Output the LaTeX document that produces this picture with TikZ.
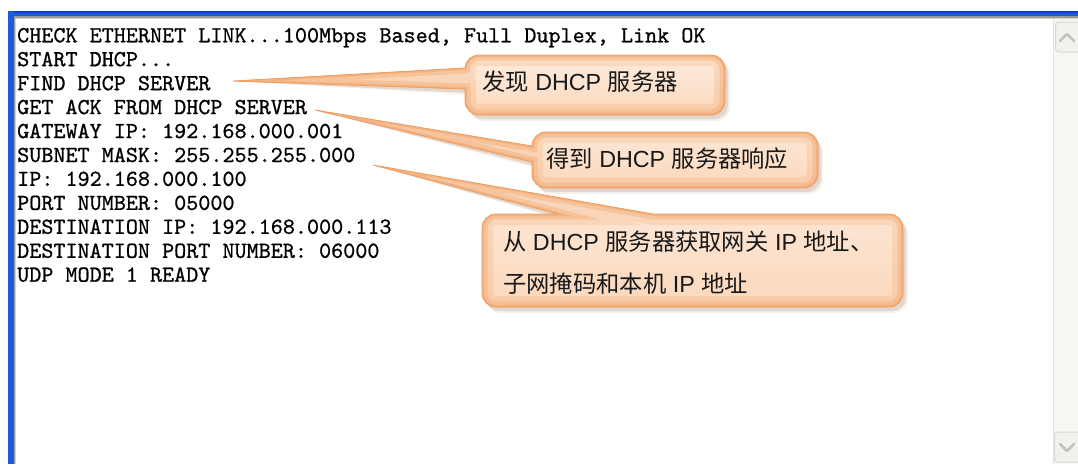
\documentclass[tikz,border=0pt]{standalone}
\usepackage{fontspec}
\setmainfont{Liberation Sans}
\newfontfamily\cjk{Noto Sans CJK SC}
\newfontfamily\termfont[FakeBold=0.8]{lmmono10-regular.otf}

\definecolor{xpblue}{HTML}{1D5BDC}
\definecolor{xpbluedark}{HTML}{0A3FC0}
\definecolor{framegray}{HTML}{9A9A96}
\definecolor{framelight}{HTML}{D6D3CC}
\definecolor{scrolltrack}{HTML}{F6F6F2}
\definecolor{scrollline}{HTML}{E4E4DF}
\definecolor{btnborder}{HTML}{D9D9D5}
\definecolor{btnfill}{HTML}{F1F1EE}
\definecolor{chevgray}{HTML}{C2C2C0}
\definecolor{cfTop}{HTML}{FDEDE0}
\definecolor{cfBot}{HTML}{FBD8BC}
\definecolor{cglow}{HTML}{F3A86F}
\definecolor{cborder}{HTML}{EE9C60}
\definecolor{cshadow}{HTML}{B08C70}

% one callout: soft shadow, light fill, inner orange glow, thin rim
\newcommand\callout[1]{%
  \fill[cshadow, opacity=.12, shift={(5,6)}] #1;
  \fill[cshadow, opacity=.25, shift={(3,4)}] #1;
  \shade[top color=cfTop, bottom color=cfBot] #1;
  \begin{scope}
    \clip #1;
    \draw[cglow, line width=22pt, opacity=.25] #1;
    \draw[cglow, line width=11pt, opacity=.40] #1;
    \draw[cglow, line width=4pt, opacity=.60] #1;
  \end{scope}
  \draw[cborder, line width=.8pt] #1;
}

% outlines of the three callouts (corner radius 14)
\newcommand\pathDiscover{(tipA) -- (465,89) -- (465,101)
  .. controls (465,108.73) and (471.27,115) .. (479,115)
  -- (711,115) .. controls (718.73,115) and (725,108.73) .. (725,101)
  -- (725,69) .. controls (725,61.27) and (718.73,55) .. (711,55)
  -- (479,55) .. controls (471.27,55) and (465,61.27) .. (465,68) -- cycle}
\newcommand\pathAck{(tipB) -- (532,162) -- (532,174)
  .. controls (532,181.73) and (538.27,188) .. (546,188)
  -- (804,188) .. controls (811.73,188) and (818,181.73) .. (818,174)
  -- (818,146) .. controls (818,138.27) and (811.73,132) .. (804,132)
  -- (546,132) .. controls (538.27,132) and (532,138.27) .. (532,146) -- cycle}
\newcommand\pathLease{(tipC) -- (653,214)
  -- (889,214) .. controls (896.73,214) and (903,220.27) .. (903,228)
  -- (903,293) .. controls (903,300.73) and (896.73,307) .. (889,307)
  -- (496,307) .. controls (488.27,307) and (482,300.73) .. (482,293)
  -- (482,228) .. controls (482,220.27) and (488.27,214) .. (496,214)
  -- (558,214) -- cycle}

\begin{document}
\begin{tikzpicture}[x=1pt, y=-1pt,
  term/.style={anchor=base west, inner sep=0pt, text=black,
    font=\termfont\fontsize{23.0}{24}\selectfont},
  note/.style={anchor=base west, inner sep=0pt, text=black!90,
    font=\fontsize{23.3}{28}\selectfont},
  chev/.style={chevgray, line width=2.6pt, line cap=round, line join=round}]

\useasboundingbox (0,0) rectangle (1078,464);
\fill[white] (0,0) rectangle (1078,464);

% window frame
\fill[xpblue] (8,11) rectangle (1078,16);
\fill[xpbluedark] (8,11) rectangle (1078,12.5);
\fill[xpblue] (8,11) rectangle (13.5,464);
\fill[framegray] (13.5,16) rectangle (1078,17.8);
\fill[framegray] (13.5,16) rectangle (15.3,464);
\fill[framelight] (15.3,17.8) rectangle (1078,19);
\fill[framelight] (15.3,17.8) rectangle (16.3,464);

% vertical scrollbar
\fill[scrolltrack] (1053,19) rectangle (1078,464);
\draw[scrollline, line width=1pt] (1053,19) -- (1053,464);
\draw[btnborder, fill=btnfill, rounded corners=3pt, line width=1pt]
  (1055.5,22) rectangle (1082,52);
\draw[chev] (1060,41) -- (1067,34) -- (1074,41);
\draw[btnborder, fill=btnfill, rounded corners=3pt, line width=1pt]
  (1054.5,432) rectangle (1082,462);
\draw[chev] (1060,444) -- (1067,451) -- (1074,444);

% terminal output
\node[term] (l1)  at (17,42.3)  {CHECK ETHERNET LINK...100Mbps Based, Full Duplex, Link OK};
\node[term] (l2)  at (17,66.2)  {START DHCP...};
\node[term] (l3)  at (17,90.2)  {FIND DHCP SERVER};
\node[term] (l4)  at (17,114.1) {GET ACK FROM DHCP SERVER};
\node[term] (l5)  at (17,138.1) {GATEWAY IP: 192.168.000.001};
\node[term] (l6)  at (17,162.0) {SUBNET MASK: 255.255.255.000};
\node[term] (l7)  at (17,185.9) {IP: 192.168.000.100};
\node[term] (l8)  at (17,209.9) {PORT NUMBER: 05000};
\node[term] (l9)  at (17,233.8) {DESTINATION IP: 192.168.000.113};
\node[term] (l10) at (17,257.8) {DESTINATION PORT NUMBER: 06000};
\node[term] (l11) at (17,281.7) {UDP MODE 1 READY};

% callout tips, just right of the lines they annotate
\coordinate (tipA) at (233,81);
\coordinate (tipB) at (315,110);
\coordinate (tipC) at (373,165);

\callout{\pathLease}
\callout{\pathAck}
\callout{\pathDiscover}

\node[note] (n1) at (482,90) {{\cjk 发现} DHCP {\cjk 服务器}};
\node[note] (n2) at (546,167) {{\cjk 得到} DHCP {\cjk 服务器响应}};
\node[note] (n3a) at (503,250) {{\cjk 从} DHCP {\cjk 服务器获取网关} IP {\cjk 地址、}};
\node[note] (n3b) at (503,292) {{\cjk 子网掩码和本机} IP {\cjk 地址}};
\end{tikzpicture}
\end{document}
